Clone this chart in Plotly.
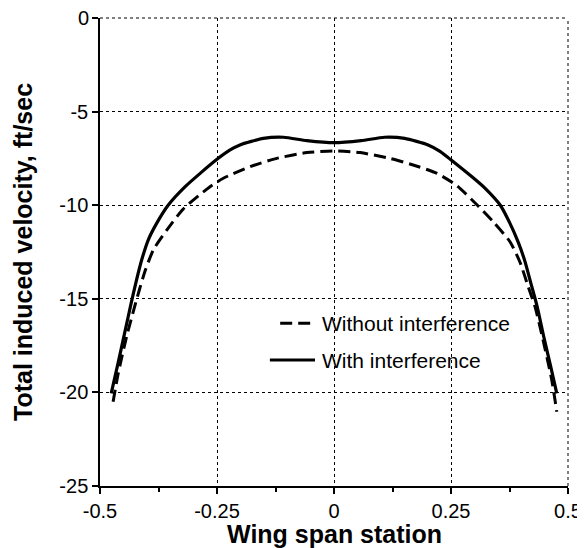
import plotly.graph_objects as go

# With interference (solid)
x_with = [-0.476, -0.462, -0.448, -0.434, -0.422, -0.411, -0.397, -0.379, -0.354, -0.318,
          -0.286, -0.25, -0.222, -0.201, -0.151, -0.108, -0.058, 0.0, 0.058, 0.108,
          0.151, 0.201, 0.2265, 0.251, 0.298, 0.323, 0.355, 0.376, 0.394, 0.408,
          0.421, 0.434, 0.448, 0.462, 0.476]
y_with = [-20.05, -18.5, -16.9, -15.3, -14.0, -12.93, -11.86, -10.97, -9.99, -9.01,
          -8.3, -7.55, -7.05, -6.78, -6.43, -6.37, -6.55, -6.66, -6.55, -6.37,
          -6.43, -6.78, -7.12, -7.6, -8.55, -9.1, -9.99, -10.97, -12.0, -13.0,
          -14.2, -15.4, -17.0, -18.5, -20.05]

# Without interference (dashed)
x_without = [-0.472, -0.461, -0.443, -0.426, -0.416, -0.403, -0.386, -0.357, -0.322, -0.265,
             -0.2365, -0.179, -0.1225, -0.058, 0.0, 0.056, 0.12, 0.169, 0.22, 0.262,
             0.308, 0.340, 0.376, 0.397, 0.415, 0.4295, 0.444, 0.465, 0.476]
y_without = [-20.5, -18.98, -17.0, -15.42, -14.53, -13.46, -12.39, -11.32, -10.2, -9.01,
             -8.56, -7.94, -7.5, -7.19, -7.1, -7.19, -7.5, -7.85, -8.3, -8.95,
             -10.04, -10.88, -11.95, -13.02, -14.35, -15.42, -16.9, -19.3, -21.03]

x_ticks = [-0.5, -0.25, 0, 0.25, 0.5]
x_ticklabels = ["-0.5", "-0.25", "0", "0.25", "0.5"]
y_ticks = [0, -5, -10, -15, -20, -25]
y_ticklabels = ["0", "-5", "-10", "-15", "-20", "-25"]

series_names = ["Without interference", "With interference"]
x_title = "Wing span station"
y_title = "Total induced velocity, ft/sec"

FONT = "Liberation Sans, Arial, Helvetica, sans-serif"
DASH = "12px,6px"

fig = go.Figure()
fig.add_trace(go.Scatter(x=x_without, y=y_without, mode="lines", name=series_names[0],
                         line=dict(color="black", width=3, dash=DASH, shape="spline", smoothing=0.6),
                         showlegend=False))
fig.add_trace(go.Scatter(x=x_with, y=y_with, mode="lines", name=series_names[1],
                         line=dict(color="black", width=3.2, shape="spline", smoothing=0.6),
                         showlegend=False))

# manual legend
legend_rows = [(-16.3, DASH, -0.115), (-18.27, "solid", -0.137)]
for (yy, dsh, xs), name in zip(legend_rows, series_names):
    fig.add_shape(type="line", xref="x", yref="y", x0=xs, x1=-0.0406, y0=yy, y1=yy,
                  line=dict(color="black", width=3, dash=dsh))
    fig.add_annotation(x=-0.030, y=yy, xref="x", yref="y", text=name, showarrow=False,
                       xanchor="left", yanchor="middle",
                       font=dict(family=FONT, size=21, color="black"))

# axis titles as annotations (fixed positions)
fig.add_annotation(x=0.5, y=0.0, xref="paper", yref="paper", yshift=-48,
                   text="<b>" + x_title + "</b>", showarrow=False,
                   xanchor="center", yanchor="middle",
                   font=dict(family=FONT, size=25, color="black"))
fig.add_annotation(x=0.0, y=0.5, xref="paper", yref="paper", xshift=-77,
                   text="<b>" + y_title + "</b>", showarrow=False, textangle=-90,
                   xanchor="center", yanchor="middle",
                   font=dict(family=FONT, size=25, color="black"))

# top y tick label (plotly drops it at the figure's top edge)
fig.add_annotation(x=0.0, y=y_ticks[0], xref="paper", yref="y", xshift=-9,
                   text=y_ticklabels[0], showarrow=False,
                   xanchor="right", yanchor="middle",
                   font=dict(family=FONT, size=20, color="black"))

fig.update_xaxes(range=[-0.5, 0.5], tickvals=x_ticks, ticktext=x_ticklabels,
                 showline=True, linecolor="black", linewidth=1.5,
                 ticks="outside", ticklen=6, tickcolor="black", tickwidth=1.5,
                 minor=dict(dtick=0.125, tick0=0, ticks="outside", ticklen=4, tickcolor="black", showgrid=False),
                 showgrid=True, gridcolor="black", griddash="dot", gridwidth=1,
                 zeroline=False, automargin=False,
                 tickfont=dict(family=FONT, size=20, color="black"))
fig.update_yaxes(range=[-25, 0], tickvals=y_ticks, ticktext=y_ticklabels,
                 showline=True, linecolor="black", linewidth=1.5,
                 ticks="outside", ticklen=6, tickcolor="black", tickwidth=1.5,
                 showgrid=True, gridcolor="black", griddash="dot", gridwidth=1,
                 zeroline=False, automargin=False,
                 tickfont=dict(family=FONT, size=20, color="black"))

# top and right dotted border lines (grid at range ends)
fig.add_shape(type="line", xref="paper", yref="paper", x0=0, x1=1, y0=1, y1=1,
              line=dict(color="black", width=1, dash="dot"))
fig.add_shape(type="line", xref="paper", yref="paper", x0=1, x1=1, y0=0, y1=1,
              line=dict(color="black", width=1, dash="dot"))

# page body has an 8px margin: shrink the figure so the plot lands where the reference has it
fig.update_layout(width=577, height=540, margin=dict(l=92, r=17, t=10, b=62),
                  plot_bgcolor="white", paper_bgcolor="white", showlegend=False)

fig.write_html("out.html")
